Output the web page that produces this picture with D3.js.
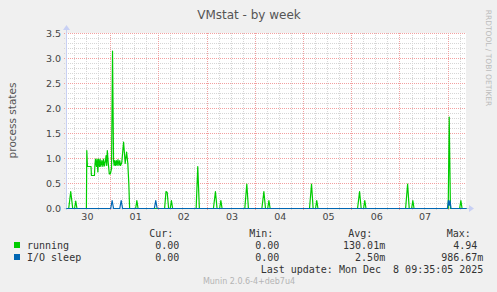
<!DOCTYPE html>
<html>
<head>
<meta charset="utf-8">
<script src="https://cdn.jsdelivr.net/npm/d3@7"></script>
<style>
  html, body { margin: 0; padding: 0; background: #f0f0f0; }
  svg { display: block; }
  text { font-family: "DejaVu Sans", sans-serif; }
  .mono { font-family: "DejaVu Sans Mono", monospace; font-size: 10px; fill: #333; white-space: pre; }
</style>
</head>
<body>
<svg id="chart" width="497" height="292"></svg>
<script>
(() => {
  'use strict';

  // hours counted from Nov 30 00:00, values in process states
  const running = [
    [2.1, 0], [3.2, 0], [4.2, 0.34], [5.2, 0], [6.1, 0], [6.7, 0.15], [7.3, 0],
    [12.0, 0], [12.2, 1.16], [12.5, 0.84], [14.3, 0.84], [14.5, 0.66], [16.0, 0.66], [16.2, 0.84],
    [16.5, 0.99], [17.0, 0.84], [17.3, 0.99], [17.7, 0.73], [18.0, 0.99], [18.5, 0.84], [18.8, 0.99],
    [19.2, 0.84], [19.7, 0.96], [20.2, 0.84], [20.5, 0.99], [21.0, 0.85], [21.5, 0.96], [21.8, 1.06],
    [22.1, 0.86], [22.4, 1.16], [22.9, 0.9], [23.4, 0.69], [23.9, 0.69], [24.5, 0.8], [25.0, 3.15],
    [25.5, 0.96], [25.8, 0.86], [26.1, 0.96], [26.5, 0.86], [26.9, 0.96], [27.3, 0.86], [27.7, 0.98],
    [28.2, 0.86], [28.6, 0.96], [29.0, 0.86], [29.6, 0.92], [30.5, 1.33], [31.3, 0.9], [32.0, 1.13],
    [32.6, 0.9], [33.1, 0.5], [33.5, 0],
    [36.5, 0], [37.1, 0.16], [37.7, 0],
    [50.9, 0], [51.6, 0.34], [52.2, 0.32], [52.9, 0], [53.7, 0], [54.3, 0.16], [54.9, 0],
    [66.6, 0], [67.4, 0.84], [68.2, 0],
    [75.2, 0], [76.2, 0.34], [77.0, 0], [78.3, 0], [78.9, 0.16], [79.5, 0],
    [90.8, 0], [91.8, 0.49], [92.6, 0],
    [99.3, 0], [100.3, 0.34], [101.1, 0], [102.2, 0], [102.8, 0.16], [103.4, 0],
    [123.0, 0], [124.0, 0.49], [124.8, 0], [126.0, 0], [126.6, 0.16], [127.2, 0],
    [146.9, 0], [147.9, 0.34], [148.7, 0], [149.9, 0], [150.5, 0.16], [151.1, 0],
    [170.8, 0], [171.8, 0.49], [172.6, 0], [173.8, 0], [174.4, 0.16], [175.0, 0],
    [192.0, 0], [192.5, 1.83], [193.1, 0],
    [197.7, 0], [198.3, 0.16], [198.9, 0], [201.1, 0]
  ];

  const ioSleep = [
    [2.1, 0], [24.1, 0], [24.8, 0.16], [25.5, 0], [28.6, 0], [29.3, 0.16], [30.0, 0],
    [45.8, 0], [46.5, 0.16], [47.2, 0],
    [191.6, 0], [192.1, 0.16], [192.5, 0.06], [192.9, 0.16], [193.4, 0], [201.1, 0]
  ];

  const dayLabels = ["30", "01", "02", "03", "04", "05", "06", "07"];
  const yTicks = [0, 0.5, 1.0, 1.5, 2.0, 2.5, 3.0, 3.5];

  const seriesNames = ["running", "I/O sleep"];
  const seriesColors = ["#00cc00", "#0066b3"];
  const curVals = ["0.00\u00a0", "0.00\u00a0"];
  const minVals = ["0.00\u00a0", "0.00\u00a0"];
  const avgVals = ["130.01m", "2.50m"];
  const maxVals = ["4.94\u00a0", "986.67m"];

  const left = 66, right = 466, top = 33, bottom = 208;

  const x = d3.scaleLinear().domain([2.1, 201.1]).range([left + 0.5, right + 0.5]);
  const y = d3.scaleLinear().domain([0, 3.5]).range([bottom + 0.5, top + 0.5]);

  const svg = d3.select('#chart');

  svg.append('rect')
    .attr('x', left).attr('y', top)
    .attr('width', right - left).attr('height', bottom - top)
    .attr('fill', '#ffffff');

  // minor grid
  let grid = svg.append('g').attr('shape-rendering', 'crispEdges');
  let hourTicks = d3.range(6, 202, 6).filter(h => h > 2.1);
  let minorY = d3.range(1, 36).map(d => d / 10);

  grid.selectAll('.hminor').data(minorY.filter(v => Math.round(v * 10) % 5 !== 0)).join('line')
    .attr('x1', left - 2).attr('x2', right)
    .attr('y1', d => y(d)).attr('y2', d => y(d))
    .attr('stroke', '#d6d6d6').attr('stroke-dasharray', '1,1');
  grid.selectAll('.vminor').data(hourTicks.filter(h => h % 24 !== 0)).join('line')
    .attr('x1', d => x(d)).attr('x2', d => x(d))
    .attr('y1', top).attr('y2', bottom + 2)
    .attr('stroke', '#d6d6d6').attr('stroke-dasharray', '1,1');

  // major grid
  grid.selectAll('.hmajor').data(yTicks.filter(v => v > 0)).join('line')
    .attr('x1', left - 2).attr('x2', right)
    .attr('y1', d => y(d)).attr('y2', d => y(d))
    .attr('stroke', '#f2a0a0').attr('stroke-dasharray', '1,1');
  grid.selectAll('.vmajor').data(hourTicks.filter(h => h % 24 === 0)).join('line')
    .attr('x1', d => x(d)).attr('x2', d => x(d))
    .attr('y1', top).attr('y2', bottom + 2)
    .attr('stroke', '#f2a0a0').attr('stroke-dasharray', '1,1');

  // axes
  const axisColor = '#c8d0f4';
  svg.append('line')
    .attr('x1', left + 0.5).attr('x2', left + 0.5)
    .attr('y1', bottom + 2).attr('y2', top - 4)
    .attr('stroke', axisColor);
  svg.append('path')
    .attr('d', `M${left - 3},${top - 3}L${left + 4},${top - 3}L${left + 0.5},${top - 8}Z`)
    .attr('fill', axisColor);
  svg.append('line')
    .attr('x1', left - 2).attr('x2', right + 4)
    .attr('y1', bottom + 0.5).attr('y2', bottom + 0.5)
    .attr('stroke', axisColor);
  svg.append('path')
    .attr('d', `M${right + 3},${bottom - 3}L${right + 3},${bottom + 4}L${right + 8},${bottom + 0.5}Z`)
    .attr('fill', axisColor);

  // tick labels
  svg.append('g').selectAll('text').data(yTicks).join('text')
    .attr('x', left - 5).attr('y', d => y(d) + 3.5)
    .attr('text-anchor', 'end')
    .attr('font-size', 9.5).attr('fill', '#444')
    .text(d => d3.format('.1f')(d));

  svg.append('g').selectAll('text').data(dayLabels).join('text')
    .attr('x', (d, i) => x(12 + 24 * i) + 1).attr('y', bottom + 12)
    .attr('text-anchor', 'middle')
    .attr('font-size', 9.5).attr('fill', '#444')
    .text(d => d);

  // series
  const line = d3.line().x(d => x(d[0])).y(d => y(d[1]));
  [running, ioSleep].forEach((data, i) => {
    svg.append('path')
      .datum(data)
      .attr('d', line)
      .attr('fill', 'none')
      .attr('stroke', seriesColors[i])
      .attr('stroke-width', 1.2)
      .attr('stroke-linejoin', 'round');
  });

  // titles
  svg.append('text')
    .attr('x', 249).attr('y', 18.5)
    .attr('text-anchor', 'middle')
    .attr('font-size', 12).attr('fill', '#555')
    .text('VMstat - by week');

  svg.append('text')
    .attr('transform', `translate(16,${(top + bottom) / 2}) rotate(-90)`)
    .attr('text-anchor', 'middle')
    .attr('font-size', 10.5).attr('fill', '#555')
    .text('process states');

  svg.append('text')
    .attr('transform', 'translate(486,58) rotate(90)')
    .attr('text-anchor', 'middle')
    .attr('font-size', 7.5).attr('fill', '#bbb')
    .text('RRDTOOL / TOBI OETIKER');

  // legend
  const heads = [["Cur:", 149.3], ["Min:", 249.3], ["Avg:", 348.3], ["Max:", 446.7]];
  svg.append('g').selectAll('text').data(heads).join('text')
    .attr('class', 'mono')
    .attr('x', d => d[1]).attr('y', 236.5)
    .text(d => d[0]);

  const cols = [[curVals, 185.3], [minVals, 285.3], [avgVals, 385.2], [maxVals, 483.4]];
  seriesNames.forEach((name, i) => {
    let by = 248.5 + 12 * i;
    svg.append('rect')
      .attr('x', 14).attr('y', by - 6.5)
      .attr('width', 6).attr('height', 6)
      .attr('fill', seriesColors[i]);
    svg.append('text').attr('class', 'mono')
      .attr('x', 27).attr('y', by)
      .text(name);
    cols.forEach(c => {
      svg.append('text').attr('class', 'mono')
        .attr('x', c[1]).attr('y', by)
        .attr('text-anchor', 'end')
        .text(c[0][i]);
    });
  });

  svg.append('text').attr('class', 'mono')
    .attr('x', 483.4).attr('y', 272.5)
    .attr('text-anchor', 'end')
    .text('Last update: Mon Dec  8 09:35:05 2025');

  svg.append('text')
    .attr('x', 249).attr('y', 284)
    .attr('text-anchor', 'middle')
    .attr('font-size', 8).attr('fill', '#b4b4b4')
    .text('Munin 2.0.6-4+deb7u4');
})();
</script>
</body>
</html>
